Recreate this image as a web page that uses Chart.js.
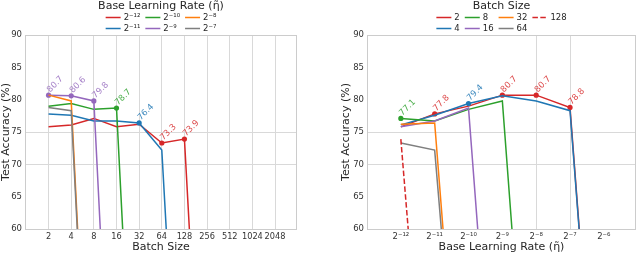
<!DOCTYPE html>
<html><head><meta charset="utf-8">
<script src="https://cdn.jsdelivr.net/npm/chart.js@4"></script>
<style>
html,body{margin:0;padding:0;background:#fff;}
#wrap{display:flex;width:640px;height:254px;}
canvas{display:block;}
</style></head><body>
<div id="wrap"><canvas id="c1" width="320" height="254"></canvas><canvas id="c2" width="320" height="254"></canvas></div>
<script>
// ---------------- data ----------------
const batchSizes = [2, 4, 8, 16, 32, 64, 128, 256];
const lrExponents = [-12, -11, -10, -9, -8, -7, -6];
const lrLabels = ['2⁻¹²', '2⁻¹¹', '2⁻¹⁰', '2⁻⁹', '2⁻⁸', '2⁻⁷', '2⁻⁶'];
const batchTickLabels = ['2', '4', '8', '16', '32', '64', '128', '256', '512', '1024', '2048'];
const yTicks = [60, 65, 70, 75, 80, 85, 90];
// test accuracy (%) for each batch size across lrExponents (10 = diverged run)
const acc_bs2   = [75.8, 77.8, 79.0, 80.7, 80.7, 78.8, 10];
const acc_bs4   = [76.1, 77.6, 79.4, 80.6, 79.8, 78.3, 10];
const acc_bs8   = [77.1, 76.7, 78.5, 79.8, 10, 10, null];
const acc_bs16  = [75.8, 76.7, 78.7, 10, null, null, null];
const acc_bs32  = [76.2, 76.4, 10, null, null, null, null];
const acc_bs64  = [73.3, 72.2, 10, null, null, null, null];
const acc_bs128 = [73.9, 10, null, null, null, null, null];
const acc_bs256 = [10, null, null, null, null, null, null];
const accRows = [acc_bs2, acc_bs4, acc_bs8, acc_bs16, acc_bs32, acc_bs64, acc_bs128, acc_bs256];

// ---------------- styling ----------------
const FONT = "'DejaVu Sans', sans-serif";
Chart.defaults.font.family = FONT;
const palette = ['#d62728', '#1f77b4', '#2ca02c', '#9467bd', '#ff7f0e', '#7f7f7f', '#d62728'];
const TXT = '#262626', TICK = '#333333', GRID = '#d9d9d9', FRAME = '#cccccc';
const TICK_SIZE = 8.5, XTICK_SIZE = 8.2, TITLE_SIZE = 11;

// mark best (max) value at each x across series, ignoring diverged runs
function markBest(datasets) {
  const best = {};
  datasets.forEach((ds, di) => ds.data.forEach((p, pi) => {
    if (p.y <= 10) return;
    const k = p.x;
    if (!best[k] || p.y > best[k].y) best[k] = {y: p.y, di, pi};
  }));
  Object.values(best).forEach(b => { datasets[b.di].data[b.pi].best = true; });
}

function makeDs(label, data, color, dash, idx) {
  return {
    label, data, borderColor: color, backgroundColor: color,
    borderWidth: 1.5, borderDash: dash || [], fill: false, tension: 0,
    pointRadius: c => (c.raw && c.raw.best) ? 2.6 : 0,
    pointBackgroundColor: color, pointBorderWidth: 0, order: -idx
  };
}

// left: one series per learning rate (exclude 2^-6), x = batch size
const leftSets = lrExponents.slice(0, 6).map((e, li) => {
  const data = [];
  accRows.forEach((row, bi) => { if (row[li] !== null && row[li] !== undefined) data.push({x: batchSizes[bi], y: row[li]}); });
  return makeDs(lrLabels[li], data, palette[li], null, li);
});
markBest(leftSets);

// right: one series per batch size (2..128), x = learning rate
const rightSets = batchSizes.slice(0, 7).map((b, bi) => {
  const data = [];
  accRows[bi].forEach((v, li) => { if (v !== null) data.push({x: Math.pow(2, lrExponents[li]), y: v}); });
  return makeDs(String(b), data, palette[bi], bi === 6 ? [5.5, 2.4] : null, bi);
});
markBest(rightSets);

const extras = {
  id: 'extras',
  afterDatasetsDraw(chart) {
    const ctx = chart.ctx;
    ctx.save();
    ctx.font = '8.5px ' + FONT;
    chart.data.datasets.forEach((ds, di) => {
      const meta = chart.getDatasetMeta(di);
      ds.data.forEach((p, pi) => {
        if (!p.best) return;
        const el = meta.data[pi];
        ctx.save();
        ctx.translate(el.x + 1.5, el.y - 2.5);
        ctx.rotate(-Math.PI / 4);
        ctx.globalAlpha = 0.85;
        ctx.fillStyle = ds.borderColor;
        ctx.textAlign = 'left'; ctx.textBaseline = 'alphabetic';
        ctx.fillText(p.y.toFixed(1), 0, 0);
        ctx.restore();
      });
    });
    ctx.restore();
  },
  afterDraw(chart, args, opts) {
    const ctx = chart.ctx, a = chart.chartArea;
    ctx.save();
    ctx.strokeStyle = FRAME; ctx.lineWidth = 1;
    ctx.strokeRect(Math.round(a.left) + 0.5, Math.round(a.top) + 0.5, Math.round(a.right - a.left) - 1, Math.round(a.bottom - a.top));
    // legend
    const cx = (a.left + a.right) / 2;
    ctx.fillStyle = TXT;
    ctx.font = TITLE_SIZE + 'px ' + FONT;
    ctx.textAlign = 'center'; ctx.textBaseline = 'middle';
    ctx.fillText(opts.title, cx, 6.5);
    ctx.font = TICK_SIZE + 'px ' + FONT;
    const items = chart.data.datasets, ncol = opts.ncol;
    const nrow = Math.ceil(items.length / ncol);
    const cols = [];
    for (let c = 0; c < ncol; c++) cols.push(items.slice(c * nrow, (c + 1) * nrow));
    const handle = 15, pad = 3, gap = 5;
    const widths = cols.map(col => handle + pad + Math.max(...col.map(d => ctx.measureText(d.label).width)));
    const total = widths.reduce((s, w) => s + w, 0) + gap * (ncol - 1);
    let x = cx - total / 2;
    const rowY = [17.5, 28.5];
    cols.forEach((col, c) => {
      col.forEach((d, r) => {
        const y = rowY[r];
        ctx.strokeStyle = d.borderColor; ctx.lineWidth = 1.5;
        ctx.setLineDash(d.borderDash || []);
        ctx.beginPath(); ctx.moveTo(x, y); ctx.lineTo(x + handle, y); ctx.stroke();
        ctx.setLineDash([]);
        ctx.textAlign = 'left'; ctx.fillStyle = TXT;
        ctx.fillText(d.label, x + handle + pad, y);
      });
      x += widths[c] + gap;
    });
    ctx.restore();
  }
};

function yAxis(titlePad, width) {
  return {
    min: 60, max: 90,
    afterBuildTicks: s => { s.ticks = yTicks.map(v => ({value: v})); },
    ticks: {font: {size: TICK_SIZE}, color: TICK, padding: 3},
    grid: {color: c => (c.tick && (c.tick.value === 70 || c.tick.value === 75)) ? GRID : 'rgba(0,0,0,0)', drawTicks: false},
    border: {display: false},
    title: {display: true, text: 'Test Accuracy (%)', color: TXT, font: {size: TITLE_SIZE, lineHeight: 1.2}, padding: {top: titlePad, bottom: 0}},
    afterFit: s => { s.width = width; }
  };
}

function xTitle(text) {
  return {display: true, text, color: TXT, font: {size: TITLE_SIZE, lineHeight: 1.2}, padding: {top: 0, bottom: 0}};
}

new Chart(document.getElementById('c1'), {
  type: 'line',
  data: {datasets: leftSets},
  options: {
    responsive: false, animation: false, events: [], devicePixelRatio: 1,
    layout: {padding: {left: 0, right: 23, top: 35, bottom: 0}},
    plugins: {legend: {display: false}, tooltip: {enabled: false}, extras: {title: 'Base Learning Rate (η̃)', ncol: 3}},
    scales: {
      x: {
        type: 'logarithmic', min: Math.pow(2, -0.04), max: Math.pow(2, 11.97),
        afterBuildTicks: s => { s.ticks = batchTickLabels.map(t => ({value: Number(t)})); },
        ticks: {autoSkip: false, maxRotation: 0, minRotation: 0, font: {size: XTICK_SIZE}, color: TICK, padding: 3,
                callback: (v, i) => batchTickLabels[i]},
        grid: {color: GRID, drawTicks: false},
        border: {display: false},
        title: xTitle('Batch Size'),
        afterFit: s => { s.height = 25; }
      },
      y: yAxis(0, 25)
    }
  },
  plugins: [extras]
});

new Chart(document.getElementById('c2'), {
  type: 'line',
  data: {datasets: rightSets},
  options: {
    responsive: false, animation: false, events: [], devicePixelRatio: 1,
    layout: {padding: {left: 0, right: 2, top: 35, bottom: 0}},
    plugins: {legend: {display: false}, tooltip: {enabled: false}, extras: {title: 'Batch Size', ncol: 4}},
    scales: {
      x: {
        type: 'logarithmic', min: Math.pow(2, -13), max: Math.pow(2, -5.05),
        afterBuildTicks: s => { s.ticks = lrExponents.map(e => ({value: Math.pow(2, e)})); },
        ticks: {autoSkip: false, maxRotation: 0, minRotation: 0, font: {size: TICK_SIZE}, color: TICK, padding: 3,
                callback: (v, i) => lrLabels[i]},
        grid: {color: c => (c.index === 4 || c.index === 5) ? GRID : 'rgba(0,0,0,0)', drawTicks: false},
        border: {display: false},
        title: xTitle('Base Learning Rate (η̃)'),
        afterFit: s => { s.height = 25; }
      },
      y: yAxis(20, 47)
    }
  },
  plugins: [extras]
});
</script>
</body></html>
